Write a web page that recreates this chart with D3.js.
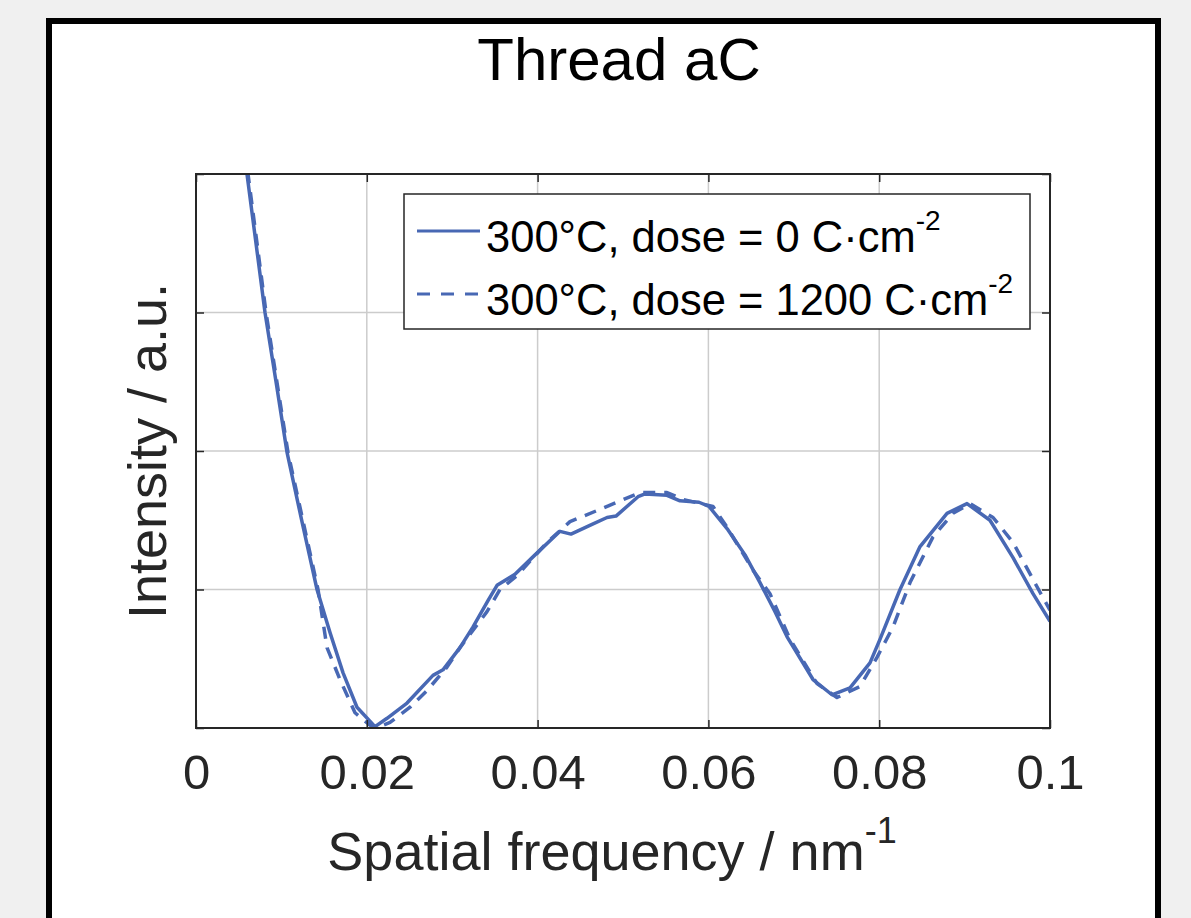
<!DOCTYPE html>
<html>
<head>
<meta charset="utf-8">
<script src="https://cdn.jsdelivr.net/npm/d3@7"></script>
<style>
  html, body { margin: 0; padding: 0; background: #f0f0f0; }
  svg { display: block; }
  text { font-family: "Liberation Sans", Arial, Helvetica, sans-serif; }
</style>
</head>
<body>
<div id="chart"></div>
<script>
// data
const xTicks = [0, 0.02, 0.04, 0.06, 0.08, 0.1];
const xTickLabels = ["0", "0.02", "0.04", "0.06", "0.08", "0.1"];
const yTicks = [0, 1, 2, 3, 4];

// 300°C, dose = 0 C·cm^-2
const dose0X = [0.00539, 0.00597, 0.00808, 0.00937, 0.01066, 0.01241, 0.01417, 0.01569, 0.01721, 0.01885,
  0.02096, 0.02237, 0.02471, 0.02775, 0.02892, 0.03091, 0.03244, 0.03419, 0.03525, 0.03735,
  0.03970, 0.04262, 0.04391, 0.04637, 0.04813, 0.04918, 0.05176, 0.05258, 0.05515, 0.05667,
  0.05890, 0.06007, 0.06230, 0.06429, 0.06604, 0.06780, 0.06920, 0.07225, 0.07447, 0.07658,
  0.07892, 0.08009, 0.08244, 0.08478, 0.08794, 0.09028, 0.09297, 0.09567, 0.09801, 0.10000];
const dose0Y = [4.32, 4.00, 3.00, 2.50, 1.99, 1.49, 1.00, 0.69, 0.40, 0.15,
  0.01, 0.07, 0.18, 0.38, 0.42, 0.58, 0.73, 0.92, 1.03, 1.11,
  1.25, 1.42, 1.40, 1.47, 1.52, 1.53, 1.67, 1.69, 1.68, 1.64,
  1.63, 1.60, 1.43, 1.25, 1.05, 0.84, 0.66, 0.35, 0.24, 0.29,
  0.47, 0.64, 1.00, 1.31, 1.55, 1.62, 1.50, 1.23, 0.97, 0.77];

// 300°C, dose = 1200 C·cm^-2
const dose1200X = [0.00550, 0.00609, 0.00820, 0.01077, 0.01429, 0.01534, 0.01686, 0.01862, 0.02037, 0.02155,
  0.02272, 0.02506, 0.02705, 0.02939, 0.03091, 0.03407, 0.03560, 0.03759, 0.04110, 0.04379,
  0.04696, 0.04930, 0.05199, 0.05515, 0.05703, 0.06054, 0.06218, 0.06522, 0.06721, 0.06956,
  0.07272, 0.07506, 0.07775, 0.07974, 0.08162, 0.08361, 0.08630, 0.08864, 0.09063, 0.09333,
  0.09567, 0.09848, 0.10000];
const dose1200Y = [4.32, 4.00, 3.00, 1.99, 1.00, 0.58, 0.35, 0.11, 0.02, 0.01,
  0.04, 0.15, 0.27, 0.44, 0.58, 0.84, 1.00, 1.10, 1.34, 1.49,
  1.57, 1.63, 1.70, 1.70, 1.65, 1.60, 1.45, 1.14, 0.97, 0.64,
  0.32, 0.22, 0.30, 0.51, 0.73, 1.05, 1.38, 1.55, 1.62, 1.52,
  1.34, 1.02, 0.85];

const series = [
  { main: "300°C, dose = 0 C·cm", sup: "-2", xs: dose0X, ys: dose0Y, dash: null },
  { main: "300°C, dose = 1200 C·cm", sup: "-2", xs: dose1200X, ys: dose1200Y, dash: "12,9" }
];

const W = 1191, H = 918;
const margin = { left: 196, top: 174, right: 1050, bottom: 728 };
const lineColor = "#4868b4";
const axisColor = "#262626";

const svg = d3.select("#chart").append("svg")
  .attr("width", W)
  .attr("height", H);

// figure panel with black frame
svg.append("rect")
  .attr("x", 49).attr("y", 21)
  .attr("width", 1109).attr("height", 940)
  .attr("fill", "#ffffff")
  .attr("stroke", "#000000")
  .attr("stroke-width", 6);

const xScale = d3.scaleLinear().domain([0, 0.1]).range([margin.left, margin.right]);
const yScale = d3.scaleLinear().domain([0, 4]).range([margin.bottom, margin.top]);

// grid
const grid = svg.append("g").attr("class", "grid");
grid.selectAll(".gx")
  .data(xTicks.slice(1, -1))
  .enter().append("line")
  .attr("x1", d => xScale(d)).attr("x2", d => xScale(d))
  .attr("y1", margin.top).attr("y2", margin.bottom)
  .attr("stroke", "#cccccc").attr("stroke-width", 1.5);
grid.selectAll(".gy")
  .data(yTicks.slice(1, -1))
  .enter().append("line")
  .attr("x1", margin.left).attr("x2", margin.right)
  .attr("y1", d => yScale(d)).attr("y2", d => yScale(d))
  .attr("stroke", "#cccccc").attr("stroke-width", 1.5);

// clip for the curves
svg.append("clipPath").attr("id", "clip")
  .append("rect")
  .attr("x", margin.left).attr("y", margin.top)
  .attr("width", margin.right - margin.left)
  .attr("height", margin.bottom - margin.top);

const line = d3.line()
  .x(d => xScale(d[0]))
  .y(d => yScale(d[1]));

series.forEach(s => {
  const pts = s.xs.map((x, i) => [x, s.ys[i]]);
  svg.append("path")
    .datum(pts)
    .attr("clip-path", "url(#clip)")
    .attr("fill", "none")
    .attr("stroke", lineColor)
    .attr("stroke-width", 3.5)
    .attr("stroke-linejoin", "round")
    .attr("stroke-dasharray", s.dash)
    .attr("d", line);
});

// axes (ticks pointing inward, box on)
const tickLen = 8;
const styleAxis = g => {
  g.select(".domain").remove();
  g.selectAll(".tick line").attr("stroke", axisColor).attr("stroke-width", 1.5);
};

svg.append("g")
  .attr("transform", `translate(0, ${margin.bottom})`)
  .call(d3.axisBottom(xScale).tickValues(xTicks).tickFormat((d, i) => xTickLabels[i])
    .tickSize(-tickLen).tickPadding(26))
  .call(styleAxis)
  .call(g => g.selectAll(".tick text")
    .attr("fill", axisColor)
    .style("font-size", "49px")
    .style("font-family", "'Liberation Sans', Arial, Helvetica, sans-serif"));

svg.append("g")
  .attr("transform", `translate(0, ${margin.top})`)
  .call(d3.axisTop(xScale).tickValues(xTicks).tickFormat("").tickSize(-tickLen))
  .call(styleAxis);

svg.append("g")
  .attr("transform", `translate(${margin.left}, 0)`)
  .call(d3.axisLeft(yScale).tickValues(yTicks).tickFormat("").tickSize(-tickLen))
  .call(styleAxis);

svg.append("g")
  .attr("transform", `translate(${margin.right}, 0)`)
  .call(d3.axisRight(yScale).tickValues(yTicks).tickFormat("").tickSize(-tickLen))
  .call(styleAxis);

// axes box
svg.append("rect")
  .attr("x", margin.left).attr("y", margin.top)
  .attr("width", margin.right - margin.left)
  .attr("height", margin.bottom - margin.top)
  .attr("fill", "none")
  .attr("stroke", axisColor)
  .attr("stroke-width", 2);

// title
svg.append("text")
  .attr("x", 619).attr("y", 80)
  .attr("text-anchor", "middle")
  .attr("fill", "#000000")
  .style("font-size", "60px")
  .text("Thread aC");

// x label
const xl = svg.append("text")
  .attr("x", 612).attr("y", 870)
  .attr("text-anchor", "middle")
  .attr("fill", axisColor)
  .style("font-size", "54px");
xl.append("tspan").text("Spatial frequency / nm");
xl.append("tspan").attr("dy", -27).style("font-size", "36px").text("-1");

// y label
svg.append("text")
  .attr("transform", `translate(166, ${(margin.top + margin.bottom) / 2}) rotate(-90)`)
  .attr("text-anchor", "middle")
  .attr("fill", axisColor)
  .style("font-size", "54px")
  .text("Intensity / a.u.");

// legend
const legend = svg.append("g").attr("class", "legend");
legend.append("rect")
  .attr("x", 404).attr("y", 194)
  .attr("width", 626).attr("height", 135)
  .attr("fill", "#ffffff")
  .attr("stroke", axisColor)
  .attr("stroke-width", 1.5);

series.forEach((s, i) => {
  const cy = 231 + i * 63;
  legend.append("line")
    .attr("x1", 417).attr("x2", 480)
    .attr("y1", cy).attr("y2", cy)
    .attr("stroke", lineColor)
    .attr("stroke-width", 3)
    .attr("stroke-dasharray", s.dash ? "13,11" : null);
  const t = legend.append("text")
    .attr("x", 486).attr("y", cy + 21)
    .attr("fill", "#000000")
    .style("font-size", "43.5px");
  t.append("tspan").text(s.main);
  t.append("tspan").attr("dy", -22).style("font-size", "28px").text(s.sup);
});
</script>
</body>
</html>
